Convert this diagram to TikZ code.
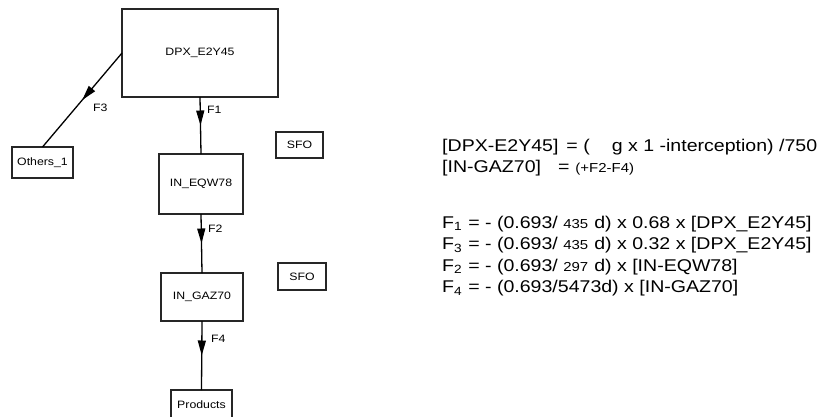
\documentclass[tikz,border=0pt]{standalone}
\usepackage{fontspec}
\setmainfont[FakeStretch=1.15]{Liberation Sans}
\usetikzlibrary{arrows.meta,decorations.markings}
\newcommand{\smallnum}[1]{{\fontsize{13}{15}\selectfont #1}}
\begin{document}
\begin{tikzpicture}[x=1pt,y=-1pt,
  box/.style={draw=black!85,line width=1.1pt,inner sep=0pt,outer sep=0pt,font=\fontsize{10.7}{13}\selectfont},
  flow/.style={draw=black,line width=1.3pt,postaction={decorate},
    decoration={markings,mark=at position 0.5 with {\arrow{Triangle[length=15pt,width=8pt]}}}},
  flab/.style={anchor=west,inner sep=0pt,font=\fontsize{10.7}{13}\selectfont},
  eq/.style={anchor=base west,inner sep=0pt,font=\fontsize{17}{20}\selectfont},
]
\useasboundingbox (0,0) rectangle (826,416);
\clip (0,0) rectangle (826,416);
\node[box,minimum width=156pt,minimum height=88pt] (dpx) at (200,53) {DPX\_E2Y45};
\node[box,minimum width=61pt,minimum height=31pt] (oth) at (42.5,162.5) {Others\_1};
\node[box,minimum width=84pt,minimum height=60pt] (eqw) at (201,184) {IN\_EQW78};
\node[box,minimum width=47pt,minimum height=26pt] (sfoa) at (299.5,145) {SFO};
\node[box,minimum width=82pt,minimum height=48pt] (gaz) at (202,297) {IN\_GAZ70};
\node[box,minimum width=48pt,minimum height=27pt] (sfob) at (302,276.5) {SFO};
\node[box,minimum width=61pt,minimum height=30pt] (prod) at (201.5,405) {Products};

\draw[flow] (dpx.west) -- (oth.north);
\draw[flow] (dpx.south) -- (eqw.north);
\draw[flow] (eqw.south) -- (gaz.north);
\draw[flow] (gaz.south) -- (prod.north);

\node[flab] (lf3) at (93,108) {F3};
\node[flab] (lf1) at (207,110) {F1};
\node[flab] (lf2) at (208,229) {F2};
\node[flab] (lf4) at (211,339) {F4};

\node[eq] (e1) at (442,151) {[DPX-E2Y45]\hspace{8pt}= (\hspace{22pt}g x 1 -interception) /750};
\node[eq] (e2) at (442,172) {[IN-GAZ70]\hspace{17pt}=\hspace{6pt}\smallnum{(+F2-F4)}};
\node[eq] (e3) at (442,228) {F\textsubscript{1}\hspace{6pt}= - (0.693/ \smallnum{435}\hspace{6pt}d) x 0.68 x [DPX\_E2Y45]};
\node[eq] (e4) at (442,249.5) {F\textsubscript{3}\hspace{6pt}= - (0.693/ \smallnum{435}\hspace{6pt}d) x 0.32 x [DPX\_E2Y45]};
\node[eq] (e5) at (442,271) {F\textsubscript{2}\hspace{6pt}= - (0.693/ \smallnum{297}\hspace{6pt}d) x [IN-EQW78]};
\node[eq] (e6) at (442,292.5) {F\textsubscript{4}\hspace{6pt}= - (0.693/5473d) x [IN-GAZ70]};
\end{tikzpicture}
\end{document}
